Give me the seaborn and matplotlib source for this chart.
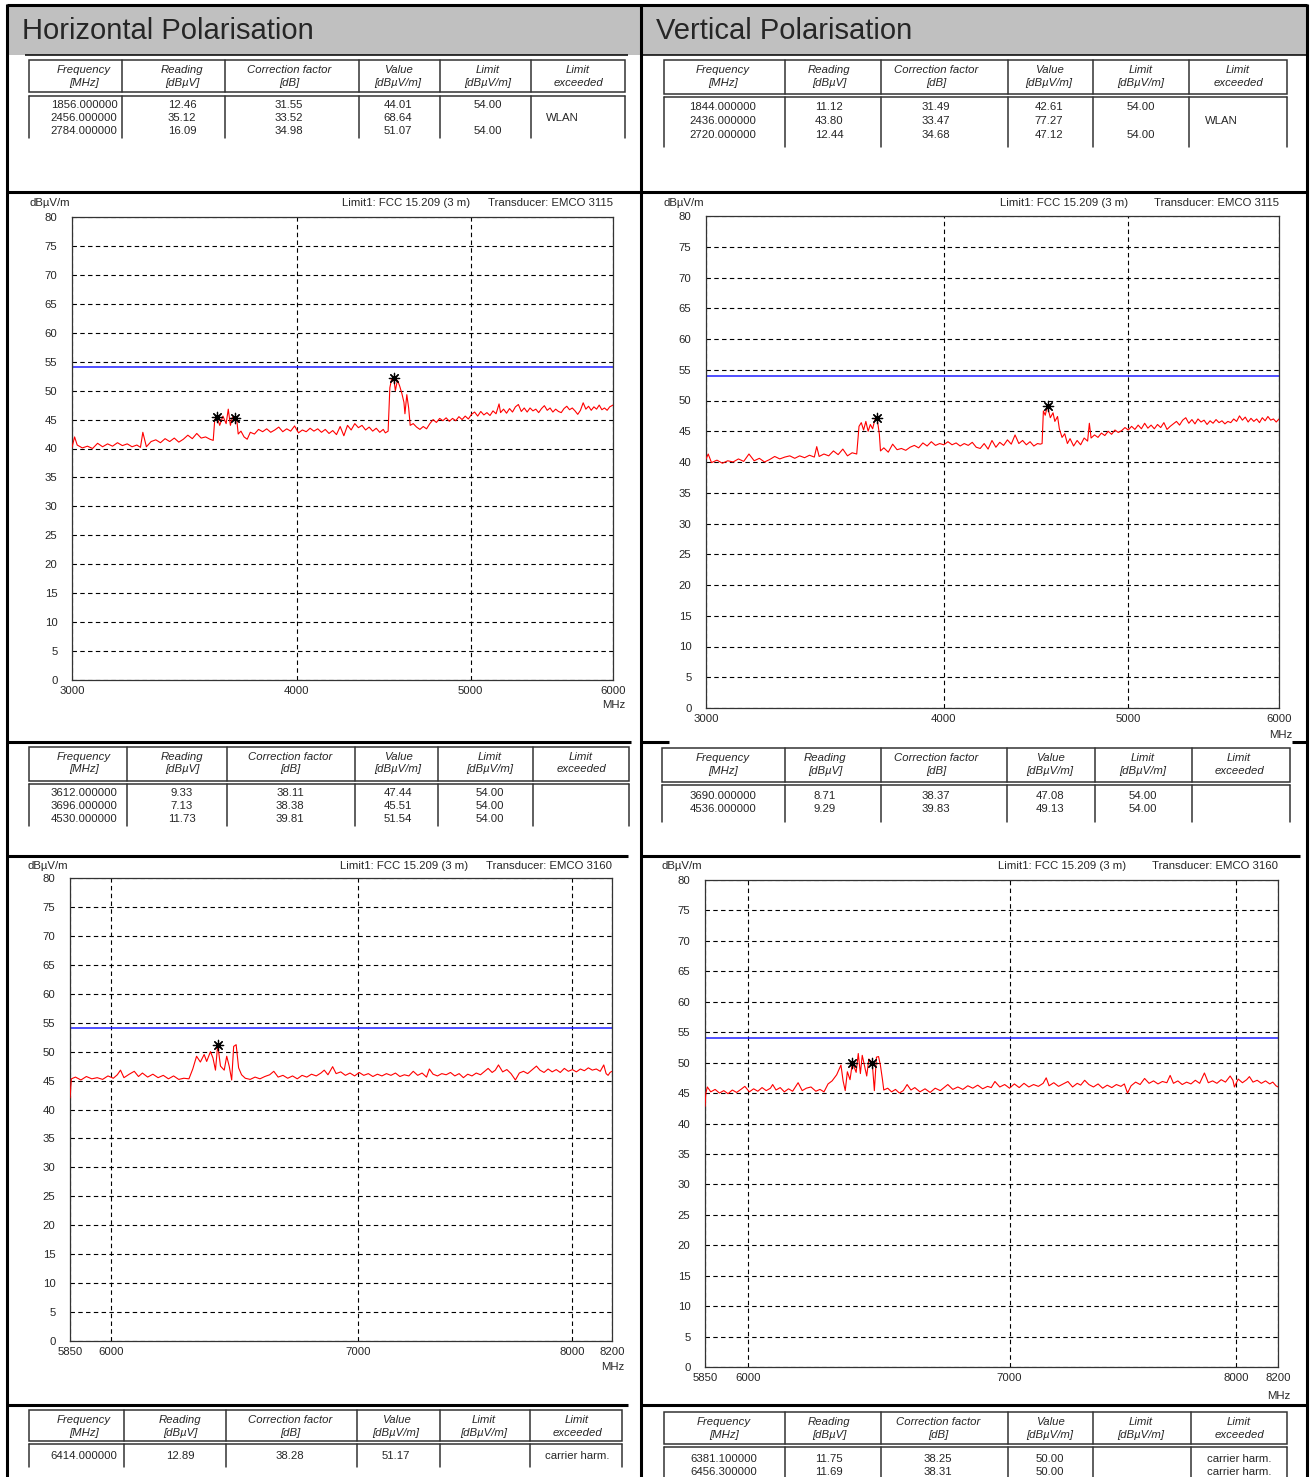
import matplotlib
matplotlib.use("Agg")
import matplotlib.pyplot as plt
from matplotlib.patches import Rectangle
from matplotlib.ticker import NullLocator
import seaborn as sns
import pandas as pd

W, H = 1314, 1477

# ---- spectrum traces ----
# Horizontal, 3 - 6 GHz
h1_freq = [3000, 3010, 3020, 3040, 3060, 3080, 3100, 3120, 3140, 3160,
           3180, 3200, 3220, 3240, 3260, 3275, 3285, 3300, 3320, 3340,
           3360, 3380, 3400, 3420, 3440, 3460, 3480, 3500, 3520, 3540,
           3560, 3580, 3595, 3602, 3612, 3625, 3640, 3655, 3665, 3675,
           3685, 3696, 3705, 3712, 3725, 3740, 3755, 3770, 3790, 3810,
           3830, 3850, 3870, 3890, 3910, 3930, 3950, 3970, 3990, 4010,
           4030, 4050, 4070, 4090, 4110, 4130, 4150, 4170, 4190, 4210,
           4230, 4250, 4270, 4290, 4310, 4330, 4350, 4370, 4390, 4410,
           4430, 4450, 4470, 4482, 4498, 4508, 4518, 4530, 4540, 4552,
           4565, 4578, 4590, 4596, 4607, 4618, 4627, 4645, 4665, 4685,
           4705, 4725, 4745, 4765, 4785, 4805, 4825, 4845, 4865, 4885,
           4905, 4925, 4945, 4965, 4985, 5005, 5025, 5045, 5065, 5085,
           5105, 5125, 5145, 5165, 5185, 5195, 5215, 5235, 5255, 5275,
           5295, 5315, 5335, 5355, 5375, 5395, 5415, 5435, 5455, 5475,
           5495, 5515, 5535, 5555, 5575, 5595, 5615, 5635, 5655, 5675,
           5695, 5715, 5735, 5755, 5775, 5795, 5815, 5835, 5855, 5875,
           5895, 5915, 5935, 5955, 5975, 6000]
h1_level = [40.2, 42.0, 40.6, 40.1, 40.4, 40.0, 40.9, 40.3, 40.8, 40.4,
            41.0, 40.5, 40.8, 40.3, 40.6, 40.2, 42.8, 40.3, 41.2, 41.5,
            41.0, 41.7, 41.2, 41.8, 41.1, 41.6, 42.3, 41.7, 42.6, 41.8,
            42.0, 41.6, 41.4, 45.0, 45.5, 44.0, 45.6, 44.3, 46.8, 44.0,
            45.4, 45.2, 45.0, 42.5, 43.0, 42.0, 41.6, 42.8, 42.5, 43.3,
            42.9, 43.4, 42.8, 43.2, 43.7, 42.9, 43.4, 43.0, 43.9, 42.7,
            43.2, 42.9, 43.5, 43.0, 43.4, 42.8, 43.3, 42.6, 43.1, 42.4,
            43.8, 42.2, 44.0, 43.2, 44.3, 43.6, 44.0, 43.2, 43.7, 43.0,
            43.5, 42.8, 43.3, 42.7, 43.0, 50.5, 52.0, 52.2, 50.0, 51.8,
            50.8, 49.5, 48.0, 46.0, 49.3, 47.0, 44.0, 44.3, 43.7, 43.3,
            43.8, 43.4, 44.3, 45.0, 44.5, 45.2, 44.8, 45.3, 44.7, 45.2,
            44.8, 45.5, 45.0, 45.6, 45.1, 45.9, 46.3, 45.6, 46.4, 45.8,
            46.2, 45.7, 46.5, 46.0, 47.7, 46.2, 46.8, 46.1, 46.9, 46.3,
            47.2, 47.6, 46.4, 47.0, 46.3, 47.0, 46.5, 46.8, 46.2, 46.9,
            47.4, 46.6, 47.0, 46.3, 46.8, 46.4, 46.2, 46.9, 47.3, 46.7,
            47.0, 46.5, 45.9, 46.6, 47.9, 46.8, 47.3, 46.6, 47.2, 46.8,
            47.5, 46.7, 47.0, 46.6, 47.2, 47.5]
h1_mark_freq = [3612, 3696, 4530]
h1_mark_level = [45.5, 45.2, 52.2]

# Vertical, 3 - 6 GHz
v1_freq = [3000, 3008, 3020, 3040, 3060, 3080, 3100, 3120, 3140, 3160,
           3180, 3200, 3220, 3240, 3260, 3280, 3300, 3320, 3340, 3360,
           3380, 3400, 3420, 3430, 3440, 3460, 3480, 3500, 3520, 3540,
           3560, 3580, 3600, 3610, 3620, 3630, 3640, 3650, 3660, 3670,
           3680, 3690, 3700, 3705, 3720, 3740, 3760, 3780, 3800, 3820,
           3840, 3860, 3880, 3900, 3920, 3940, 3960, 3980, 4000, 4020,
           4040, 4060, 4080, 4100, 4120, 4140, 4160, 4180, 4200, 4220,
           4240, 4260, 4280, 4300, 4320, 4340, 4360, 4380, 4400, 4420,
           4440, 4460, 4480, 4495, 4505, 4512, 4522, 4534, 4550, 4565,
           4575, 4590, 4600, 4615, 4630, 4645, 4660, 4680, 4700, 4720,
           4740, 4760, 4770, 4780, 4800, 4820, 4840, 4860, 4880, 4900,
           4920, 4940, 4960, 4980, 5000, 5020, 5040, 5060, 5080, 5100,
           5120, 5140, 5160, 5180, 5200, 5220, 5240, 5260, 5280, 5300,
           5320, 5340, 5360, 5380, 5400, 5420, 5440, 5460, 5480, 5500,
           5520, 5540, 5560, 5580, 5600, 5620, 5640, 5660, 5680, 5700,
           5720, 5740, 5760, 5780, 5800, 5820, 5840, 5860, 5880, 5900,
           5920, 5940, 5960, 5980, 6000]
v1_level = [40.5, 41.3, 39.9, 40.3, 39.8, 40.2, 40.0, 40.5, 40.1, 41.3,
            40.2, 40.6, 40.0, 40.4, 40.9, 40.5, 40.8, 41.0, 40.6, 41.0,
            40.7, 41.1, 40.8, 42.5, 40.9, 41.3, 41.0, 41.8, 41.2, 42.1,
            41.0, 41.5, 41.3, 45.8, 46.4, 45.2, 46.6, 45.0, 46.1, 45.4,
            46.9, 47.1, 44.5, 41.8, 42.3, 41.6, 42.9, 42.0, 42.2, 41.9,
            42.4, 42.7, 42.3, 43.1, 42.6, 43.3, 42.7, 43.0, 42.8, 43.3,
            42.8, 43.1, 42.6, 43.0, 42.7, 43.2, 42.4, 42.2, 43.0, 42.1,
            43.5, 42.4, 43.2, 42.7, 43.6, 42.9, 44.4, 43.0, 43.5, 42.8,
            43.3, 42.6, 43.0, 42.9, 43.0, 48.3, 47.6, 49.1, 47.2, 48.0,
            46.6, 47.4, 45.4, 44.0, 44.6, 43.0, 43.8, 42.6, 43.5, 42.8,
            43.9, 43.4, 46.3, 43.9, 44.4, 44.0, 44.7, 44.3, 45.0, 44.5,
            45.2, 44.8, 45.1, 45.6, 45.2, 45.8, 45.3, 46.0, 45.4, 46.3,
            45.5, 46.0, 45.4, 46.1, 45.6, 46.4, 45.3, 45.8, 46.2, 46.6,
            46.0, 46.8, 47.2, 46.3, 46.9, 46.2, 47.0, 46.5, 46.8, 46.1,
            46.7, 46.3, 46.9, 46.4, 46.7, 46.2, 46.6, 46.4, 47.0, 46.6,
            47.5, 46.8, 47.3, 46.5, 47.1, 46.6, 47.0, 46.4, 47.2, 46.7,
            47.4, 46.8, 47.0, 46.5, 47.0]
v1_mark_freq = [3690, 4536]
v1_mark_level = [47.1, 49.1]

# Horizontal, 5.85 - 8.2 GHz
h2_freq = [5850, 5855, 5870, 5890, 5910, 5930, 5950, 5970, 5990, 6010,
           6025, 6037, 6050, 6070, 6089, 6105, 6120, 6140, 6160, 6180,
           6200, 6220, 6240, 6260, 6280, 6300, 6315, 6330, 6345, 6360,
           6370, 6385, 6395, 6405, 6414, 6425, 6440, 6450, 6460, 6470,
           6478, 6488, 6498, 6510, 6525, 6545, 6565, 6585, 6605, 6625,
           6642, 6660, 6680, 6700, 6720, 6740, 6760, 6780, 6800, 6820,
           6840, 6854, 6870, 6890, 6905, 6925, 6945, 6965, 6985, 7005,
           7025, 7045, 7065, 7085, 7105, 7125, 7145, 7165, 7185, 7205,
           7225, 7245, 7265, 7285, 7305, 7318, 7335, 7355, 7375, 7395,
           7415, 7435, 7455, 7475, 7495, 7515, 7535, 7555, 7575, 7591,
           7610, 7625, 7640, 7660, 7680, 7700, 7721, 7740, 7760, 7780,
           7800, 7823, 7840, 7860, 7880, 7900, 7920, 7940, 7960, 7980,
           8000, 8020, 8040, 8060, 8080, 8100, 8120, 8140, 8158, 8170,
           8180, 8190, 8200]
h2_level = [42.0, 45.3, 45.6, 45.1, 45.7, 45.3, 45.5, 45.2, 45.8, 45.4,
            46.0, 46.8, 45.5, 46.1, 46.6, 45.7, 46.3, 45.6, 46.1, 45.5,
            45.9, 45.3, 45.8, 45.2, 45.4, 45.3, 47.0, 49.2, 48.2, 49.5,
            48.3, 50.0, 48.9, 46.8, 51.2, 47.5, 46.8, 49.2, 47.5, 45.1,
            50.9, 51.2, 47.2, 46.0, 45.4, 45.2, 45.6, 45.3, 45.7, 46.0,
            46.6, 45.6, 45.9, 45.4, 45.8, 45.3, 45.9, 45.6, 46.1, 45.8,
            46.3, 46.8, 46.0, 47.4, 46.2, 46.5, 45.9, 46.3, 45.8, 46.4,
            45.9, 46.2, 45.7, 46.1, 45.8, 46.2, 45.9, 46.3, 45.7, 46.0,
            45.8, 46.6, 45.9, 46.3, 45.6, 47.0, 46.1, 45.8, 46.2, 46.0,
            46.4, 45.8, 46.2, 45.5, 46.1, 45.8, 46.3, 46.0, 46.6, 47.1,
            46.4, 46.8, 47.7, 46.5, 46.9, 46.2, 45.1, 46.3, 46.6, 46.2,
            46.8, 47.5, 46.8, 46.4, 47.0, 46.5, 46.9, 46.4, 47.1, 46.6,
            46.9, 46.5, 47.0, 46.7, 47.2, 46.8, 47.0, 46.6, 47.7, 46.2,
            45.9, 46.4, 46.6]
h2_mark_freq = [6414]
h2_mark_level = [51.2]

# Vertical, 5.85 - 8.2 GHz
v2_freq = [5850, 5853, 5858, 5870, 5885, 5900, 5915, 5930, 5945, 5960,
           5975, 5989, 6005, 6020, 6035, 6050, 6065, 6080, 6088, 6100,
           6115, 6130, 6145, 6160, 6180, 6195, 6210, 6227, 6245, 6260,
           6275, 6290, 6305, 6322, 6338, 6346, 6354, 6362, 6372, 6381,
           6395, 6403, 6411, 6418, 6427, 6435, 6443, 6456, 6464, 6472,
           6480, 6487, 6495, 6500, 6515, 6530, 6545, 6560, 6575, 6590,
           6605, 6620, 6640, 6660, 6680, 6700, 6720, 6735, 6750, 6770,
           6790, 6810, 6830, 6850, 6870, 6890, 6910, 6925, 6940, 6960,
           6980, 7000, 7020, 7040, 7060, 7080, 7100, 7120, 7140, 7153,
           7165, 7185, 7205, 7225, 7245, 7265, 7285, 7300, 7317, 7335,
           7355, 7375, 7395, 7415, 7435, 7455, 7475, 7490, 7504, 7520,
           7540, 7560, 7580, 7600, 7620, 7640, 7660, 7680, 7695, 7710,
           7730, 7750, 7770, 7790, 7810, 7830, 7852, 7870, 7890, 7910,
           7930, 7950, 7972, 7985, 7992, 8010, 8030, 8050, 8063, 8080,
           8100, 8120, 8140, 8160, 8175, 8190, 8200]
v2_level = [42.8, 45.0, 46.0, 45.2, 45.6, 45.0, 45.4, 44.9, 45.5, 45.1,
            45.6, 46.1, 45.2, 45.7, 45.3, 45.9, 45.4, 45.8, 46.4, 45.5,
            45.9, 45.2, 45.7, 45.3, 46.7, 45.4, 45.8, 46.0, 45.3, 45.6,
            45.2, 46.5, 47.0, 48.0, 49.6, 47.0, 45.4, 48.5, 47.2, 50.0,
            48.4, 51.5, 48.2, 51.2, 49.4, 47.8, 50.6, 50.0, 45.4, 50.9,
            51.0, 49.6, 47.2, 45.5, 45.8, 45.2, 45.6, 45.0, 45.4, 46.4,
            45.5, 45.9, 45.2, 45.7, 45.1, 45.8, 45.4, 45.9, 46.4, 45.6,
            46.0, 45.6, 46.2, 45.8, 46.3, 45.7, 46.1, 45.9, 46.9, 46.0,
            46.4, 45.8, 46.5, 45.9, 46.6, 46.0, 46.4, 46.1, 46.6, 47.5,
            46.2, 46.7, 46.1, 46.5, 46.9, 46.0, 46.6, 46.3, 47.1, 46.4,
            46.0, 46.5, 45.8, 46.3, 45.9, 46.4, 46.1, 46.5, 45.0, 46.2,
            46.8, 46.4, 47.4, 46.6, 47.0, 46.5, 46.9, 46.7, 47.9, 46.6,
            47.0, 46.4, 46.8, 46.5, 47.1, 46.6, 48.3, 46.7, 47.0, 46.6,
            47.2, 46.8, 47.8, 47.1, 46.0, 47.3, 46.7, 47.2, 47.7, 46.8,
            47.1, 46.6, 47.0, 46.5, 46.8, 46.2, 46.0]
v2_mark_freq = [6381.1, 6456.3]
v2_mark_level = [50.0, 50.0]

limit_level = 54.0

# ---- tables ----
head_top = ["Frequency", "Reading", "Correction factor", "Value", "Limit", "Limit"]
head_bot = ["[MHz]", "[dBµV]", "[dB]", "[dBµV/m]", "[dBµV/m]", "exceeded"]

h1_tab_freq = ["1856.000000", "2456.000000", "2784.000000"]
h1_tab_read = ["12.46", "35.12", "16.09"]
h1_tab_corr = ["31.55", "33.52", "34.98"]
h1_tab_value = ["44.01", "68.64", "51.07"]
h1_tab_limit = ["54.00", "", "54.00"]
h1_tab_note = ["", "WLAN", ""]

v1_tab_freq = ["1844.000000", "2436.000000", "2720.000000"]
v1_tab_read = ["11.12", "43.80", "12.44"]
v1_tab_corr = ["31.49", "33.47", "34.68"]
v1_tab_value = ["42.61", "77.27", "47.12"]
v1_tab_limit = ["54.00", "", "54.00"]
v1_tab_note = ["", "WLAN", ""]

h2_tab_freq = ["3612.000000", "3696.000000", "4530.000000"]
h2_tab_read = ["9.33", "7.13", "11.73"]
h2_tab_corr = ["38.11", "38.38", "39.81"]
h2_tab_value = ["47.44", "45.51", "51.54"]
h2_tab_limit = ["54.00", "54.00", "54.00"]
h2_tab_note = ["", "", ""]

v2_tab_freq = ["3690.000000", "4536.000000"]
v2_tab_read = ["8.71", "9.29"]
v2_tab_corr = ["38.37", "39.83"]
v2_tab_value = ["47.08", "49.13"]
v2_tab_limit = ["54.00", "54.00"]
v2_tab_note = ["", ""]

h3_tab_freq = ["6414.000000"]
h3_tab_read = ["12.89"]
h3_tab_corr = ["38.28"]
h3_tab_value = ["51.17"]
h3_tab_limit = [""]
h3_tab_note = ["carrier harm."]

v3_tab_freq = ["6381.100000", "6456.300000"]
v3_tab_read = ["11.75", "11.69"]
v3_tab_corr = ["38.25", "38.31"]
v3_tab_value = ["50.00", "50.00"]
v3_tab_limit = ["", ""]
v3_tab_note = ["carrier harm.", "carrier harm."]

# ---- drawing ----
sns.set_style("white")
plt.rcParams['font.family'] = ['Liberation Sans', 'DejaVu Sans']
FS = 8.2
EDGE = '#333333'

fig = plt.figure(figsize=(W / 100, H / 100), dpi=100)
bg = fig.add_axes([0, 0, 1, 1])
bg.set_xlim(0, W)
bg.set_ylim(H, 0)
bg.axis('off')


def px_axes(x0, y0, x1, y1):
    return fig.add_axes([x0 / W, 1 - y1 / H, (x1 - x0) / W, (y1 - y0) / H])


def hline(y, x0, x1, lw=2.2):
    bg.plot([x0, x1], [y, y], color='black', lw=lw, solid_capstyle='butt')


# page frame and headers
bg.add_patch(Rectangle((7, 5), 1300, 50, color='#c0c0c0', lw=0))
for x in [7, 641, 1307]:
    bg.plot([x, x], [4, H], color='black', lw=2.2, solid_capstyle='butt')
hline(5, 7, 1307)
hline(55, 25, 628, lw=1.1)
hline(55, 641, 1307, lw=1.1)
hline(192, 7, 1307)
hline(742, 7, 631)
hline(742, 641, 669)
hline(742, 1292, 1307)
hline(856, 7, 628)
hline(856, 641, 1300)
hline(1405, 7, 628)
hline(1405, 641, 1307)
bg.text(22, 31, "Horizontal Polarisation", fontsize=21, va='center', ha='left')
bg.text(656, 31, "Vertical Polarisation", fontsize=21, va='center', ha='left')


def table(edges, centers, head_y, data_y, row_y, cols, note_x):
    x0, x1 = edges[0], edges[-1]
    bg.add_patch(Rectangle((x0, head_y[0]), x1 - x0, head_y[1] - head_y[0],
                           fill=False, ec=EDGE, lw=1.1))
    for x in edges[1:-1]:
        bg.plot([x, x], head_y, color=EDGE, lw=1.1)
    for cx, t, b in zip(centers, head_top, head_bot):
        bg.text(cx, head_y[0] + 10, t, fontsize=FS, style='italic', ha='center', va='center')
        bg.text(cx, head_y[0] + 22.5, b, fontsize=FS, style='italic', ha='center', va='center')
    bg.plot([x0, x1], [data_y[0], data_y[0]], color=EDGE, lw=1.1)
    for x in edges:
        bg.plot([x, x], data_y, color=EDGE, lw=1.1)
    for j, col in enumerate(cols):
        cx = centers[j] if j < len(cols) - 1 else note_x
        for y, s in zip(row_y, col):
            bg.text(cx, y, s, fontsize=FS, ha='center', va='center')


table([29, 122, 225, 359, 440, 531, 625], [84, 182, 289, 398, 488, 578],
      (60, 92), (95.5, 138), [105, 118, 131],
      [h1_tab_freq, h1_tab_read, h1_tab_corr, h1_tab_value, h1_tab_limit, h1_tab_note], 562)
table([664, 785, 881, 1008, 1093, 1189, 1287], [723, 829, 936, 1049, 1141, 1238],
      (60, 94), (96.5, 147), [107, 121, 134.5],
      [v1_tab_freq, v1_tab_read, v1_tab_corr, v1_tab_value, v1_tab_limit, v1_tab_note], 1221)
table([29, 127, 227, 355, 438, 533, 629], [84, 182, 290, 398, 490, 581],
      (747, 781), (784, 826), [793, 806, 819],
      [h2_tab_freq, h2_tab_read, h2_tab_corr, h2_tab_value, h2_tab_limit, h2_tab_note], 581)
table([662, 785, 881, 1007, 1095, 1192, 1290], [723, 825, 936, 1050, 1143, 1239],
      (748, 782), (785, 822), [796, 809],
      [v2_tab_freq, v2_tab_read, v2_tab_corr, v2_tab_value, v2_tab_limit, v2_tab_note], 1239)
table([29, 124, 226, 357, 440, 530, 622], [84, 180, 290, 396, 484, 577],
      (1410, 1441), (1444, 1467), [1456],
      [h3_tab_freq, h3_tab_read, h3_tab_corr, h3_tab_value, h3_tab_limit, h3_tab_note], 577)
table([664, 785, 881, 1008, 1093, 1191, 1287], [724, 829, 938, 1050, 1141, 1239],
      (1412, 1444), (1447, 1478), [1459, 1472],
      [v3_tab_freq, v3_tab_read, v3_tab_corr, v3_tab_value, v3_tab_limit, v3_tab_note], 1239)


def spectrum(box, freq, level, mk_f, mk_l, xlim, xticks, transducer, unit_xy, mhz_xy, lim_x):
    ax = px_axes(*box)
    ax.set_xscale('log')
    df = pd.DataFrame({'freq': freq, 'level': level})
    sns.lineplot(data=df, x='freq', y='level', ax=ax, color='#ff0000', lw=0.8, zorder=3)
    ax.axhline(limit_level, color='#1f1fff', lw=1.1, zorder=2)
    sns.scatterplot(x=mk_f, y=mk_l, ax=ax, marker=(8, 2, 0), s=55, color='black',
                    linewidth=0.9, zorder=4)
    ax.set_xlim(*xlim)
    ax.set_ylim(0, 80)
    ax.set_yticks(range(0, 81, 5))
    ax.set_xticks(xticks)
    ax.set_xticklabels([str(t) for t in xticks])
    ax.xaxis.set_minor_locator(NullLocator())
    ax.set_xlabel('')
    ax.set_ylabel('')
    ax.grid(True, color='black', ls=(0, (4, 3)), lw=0.8)
    ax.set_axisbelow(True)
    for sp in ax.spines.values():
        sp.set_color(EDGE)
        sp.set_linewidth(0.9)
    ax.tick_params(axis='both', length=0, labelsize=FS)
    ax.tick_params(axis='y', pad=10.5)
    ax.tick_params(axis='x', pad=4.5)
    x1, y0 = box[2], box[1]
    bg.text(unit_xy[0], unit_xy[1], 'dBµV/m', fontsize=FS, ha='left', va='center')
    bg.text(lim_x, unit_xy[1], 'Limit1: FCC 15.209 (3 m)', fontsize=FS, ha='right', va='center')
    bg.text(x1, unit_xy[1], 'Transducer: ' + transducer, fontsize=FS, ha='right', va='center')
    bg.text(mhz_xy[0], mhz_xy[1], 'MHz', fontsize=FS, ha='right', va='center')
    return ax


spectrum((72, 217, 613, 680), h1_freq, h1_level, h1_mark_freq, h1_mark_level,
         (3000, 6000), [3000, 4000, 5000, 6000], 'EMCO 3115', (30, 203), (625, 705), 470)
spectrum((706, 216, 1279, 708), v1_freq, v1_level, v1_mark_freq, v1_mark_level,
         (3000, 6000), [3000, 4000, 5000, 6000], 'EMCO 3115', (663, 203), (1292, 735), 1128)
spectrum((70, 878, 612, 1341), h2_freq, h2_level, h2_mark_freq, h2_mark_level,
         (5850, 8200), [5850, 6000, 7000, 8000, 8200], 'EMCO 3160', (28, 866), (624, 1367), 468)
spectrum((705, 880, 1278, 1367), v2_freq, v2_level, v2_mark_freq, v2_mark_level,
         (5850, 8200), [5850, 6000, 7000, 8000, 8200], 'EMCO 3160', (662, 866), (1290, 1396), 1126)

fig.savefig('out.png', dpi=100)
